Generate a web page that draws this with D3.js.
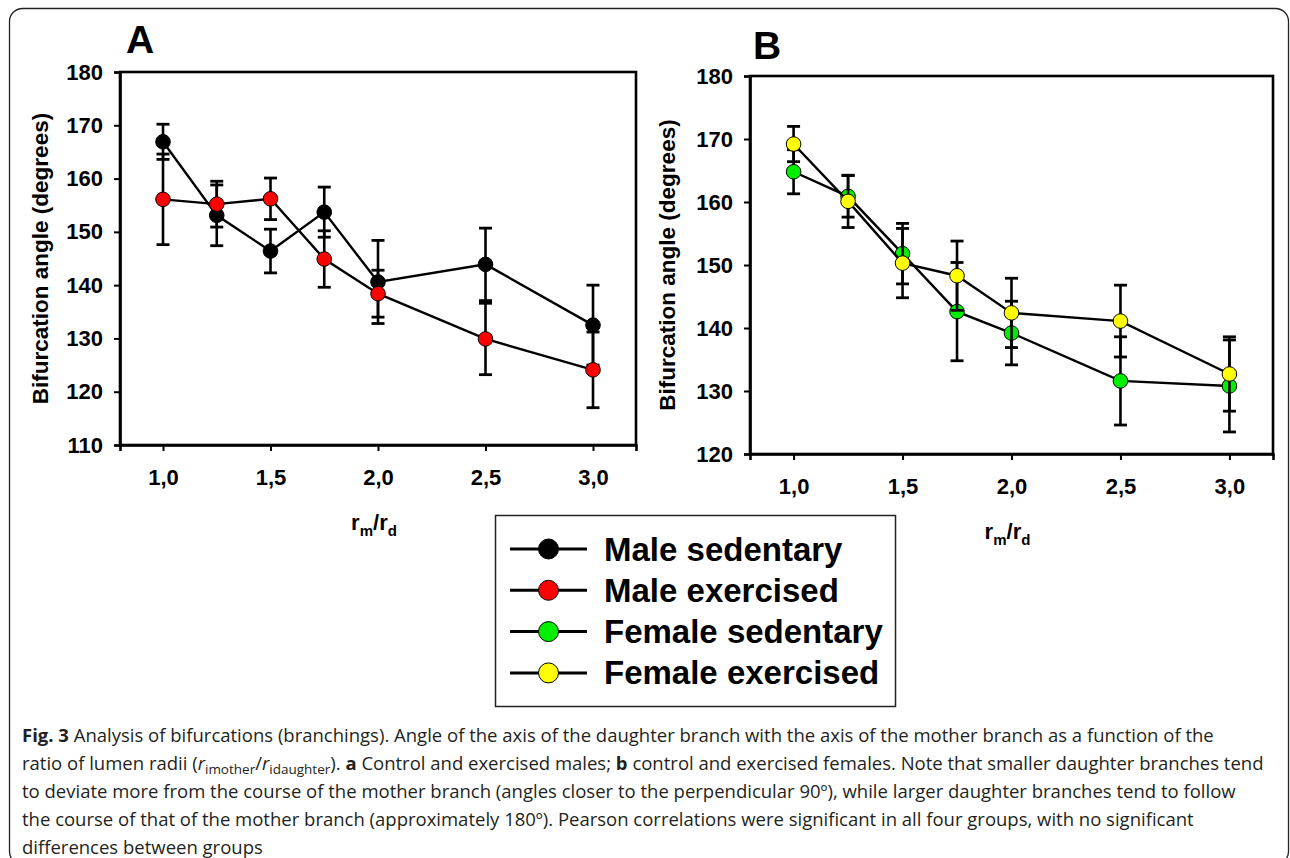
<!DOCTYPE html>
<html>
<head>
<meta charset="utf-8">
<script src="https://cdn.jsdelivr.net/npm/d3@7"></script>
<style>
  html, body { margin: 0; padding: 0; background: #fff; }
  svg { display: block; }
</style>
</head>
<body>
<svg id="chart" width="1290" height="858"></svg>
<script>
// ---------------- DATA ----------------
const xValues = [1.0, 1.25, 1.5, 1.75, 2.0, 2.5, 3.0];
const xTickValues = [1.0, 1.5, 2.0, 2.5, 3.0];
const yTicksA = [110, 120, 130, 140, 150, 160, 170, 180];
const yTicksB = [120, 130, 140, 150, 160, 170, 180];

const maleSedentary      = [166.9, 153.1, 146.4, 153.7, 140.6, 143.9, 132.5];
const maleSedentaryErr   = [3.3, 5.7, 4.1, 4.7, 7.8, 6.8, 7.5];
const maleExercised      = [156.1, 155.2, 156.2, 144.9, 138.4, 129.9, 124.1];
const maleExercisedErr   = [8.5, 4.3, 3.9, 5.3, 4.4, 6.7, 7.1];
const femaleSedentary    = [164.8, 160.9, 151.8, 142.6, 139.2, 131.6, 130.8];
const femaleSedentaryErr = [3.5, 3.3, 4.8, 7.8, 5.05, 7.0, 7.3];
const femaleExercised    = [169.2, 160.1, 150.3, 148.3, 142.4, 141.1, 132.7];
const femaleExercisedErr = [2.8, 4.15, 5.5, 5.5, 5.5, 5.7, 5.9];

const seriesNames  = ["Male sedentary", "Male exercised", "Female sedentary", "Female exercised"];
const seriesColors = ["#000000", "#ff0000", "#00ee00", "#ffff00"];

const panelLetters = ["A", "B"];
const yTitle = "Bifurcation angle (degrees)";

const captionLines = [
  [{t:"Fig. 3", b:true}, {t:" Analysis of bifurcations (branchings). Angle of the axis of the daughter branch with the axis of the mother branch as a function of the"}],
  [{t:"ratio of lumen radii ("}, {t:"r", i:true}, {t:"imother", sub:true}, {t:"/"}, {t:"r", i:true}, {t:"idaughter", sub:true}, {t:"). "}, {t:"a", b:true}, {t:" Control and exercised males; "}, {t:"b", b:true}, {t:" control and exercised females. Note that smaller daughter branches tend"}],
  [{t:"to deviate more from the course of the mother branch (angles closer to the perpendicular 90º), while larger daughter branches tend to follow"}],
  [{t:"the course of that of the mother branch (approximately 180º). Pearson correlations were significant in all four groups, with no significant"}],
  [{t:"differences between groups"}]
];

// ---------------- DRAW ----------------
const svg = d3.select("#chart");
const FONT = "'Liberation Sans', Arial, Helvetica, sans-serif";

svg.append("rect")
  .attr("x", 9.5).attr("y", 8.5).attr("width", 1279).attr("height", 856)
  .attr("rx", 13).attr("ry", 13)
  .attr("fill", "none").attr("stroke", "#222").attr("stroke-width", 1.3);

const panels = [
  { left: 120, right: 636, top: 72, bottom: 445, yDomain: [110, 180], yTicks: yTicksA,
    series: [[maleSedentary, maleSedentaryErr, 0], [maleExercised, maleExercisedErr, 1]],
    letterX: 126, letterY: 53, titleX: 40 },
  { left: 750, right: 1273, top: 76, bottom: 454, yDomain: [120, 180], yTicks: yTicksB,
    series: [[femaleSedentary, femaleSedentaryErr, 2], [femaleExercised, femaleExercisedErr, 3]],
    letterX: 753, letterY: 59, titleX: 667 }
];

const fmt = d => d3.format(".1f")(d).replace(".", ",");

panels.forEach((p, pi) => {
  const x = d3.scaleLinear().domain([0.8, 3.2]).range([p.left, p.right]);
  const y = d3.scaleLinear().domain(p.yDomain).range([p.bottom, p.top]);
  const g = svg.append("g");

  g.append("rect")
    .attr("x", p.left).attr("y", p.top)
    .attr("width", p.right - p.left).attr("height", p.bottom - p.top)
    .attr("fill", "none").attr("stroke", "#000").attr("stroke-width", 2.6);

  const ya = g.append("g").attr("transform", `translate(${p.left},0)`)
    .call(d3.axisLeft(y).tickValues(p.yTicks).tickSize(6).tickPadding(11).tickFormat(d3.format("d")));
  ya.select(".domain").attr("stroke-width", 2.6);
  ya.selectAll(".tick line").attr("stroke-width", 2);
  ya.selectAll("text").attr("font-family", FONT).attr("font-weight", "bold")
    .attr("font-size", 22).attr("fill", "#000");

  const xa = g.append("g").attr("transform", `translate(0,${p.bottom})`)
    .call(d3.axisBottom(x).tickValues(xTickValues).tickSize(6).tickFormat(fmt));
  xa.select(".domain").attr("stroke-width", 2.6);
  xa.selectAll(".tick line").attr("stroke-width", 2);
  xa.selectAll("text").attr("font-family", FONT).attr("font-weight", "bold")
    .attr("font-size", 22).attr("fill", "#000").attr("y", 32.5).attr("dy", "0.35em");

  g.append("text")
    .attr("transform", `translate(${p.titleX},${(p.top + p.bottom) / 2}) rotate(-90)`)
    .attr("text-anchor", "middle").attr("dy", "0.35em")
    .attr("font-family", FONT).attr("font-weight", "bold").attr("font-size", 22.5)
    .text(yTitle);

  const xt = g.append("text")
    .attr("x", (p.left + p.right) / 2 - 4).attr("y", p.bottom + 85)
    .attr("text-anchor", "middle")
    .attr("font-family", FONT).attr("font-weight", "bold").attr("font-size", 22);
  xt.append("tspan").text("r");
  xt.append("tspan").attr("font-size", 15).attr("dy", 6).text("m");
  xt.append("tspan").attr("dy", -6).text("/r");
  xt.append("tspan").attr("font-size", 15).attr("dy", 6).text("d");

  g.append("text").attr("x", p.letterX).attr("y", p.letterY)
    .attr("font-family", FONT).attr("font-weight", "bold").attr("font-size", 39)
    .text(panelLetters[pi]);

  const line = d3.line().x(d => x(d[0])).y(d => y(d[1]));
  p.series.forEach(([vals, errs, si]) => {
    const pts = xValues.map((xv, i) => [xv, vals[i], errs[i]]);
    const sg = g.append("g");
    sg.append("path").datum(pts).attr("d", line)
      .attr("fill", "none").attr("stroke", "#000").attr("stroke-width", 2.4);
    const eb = sg.selectAll(".eb").data(pts).enter().append("g");
    eb.append("line")
      .attr("x1", d => x(d[0])).attr("x2", d => x(d[0]))
      .attr("y1", d => y(d[1] + d[2])).attr("y2", d => y(d[1] - d[2]))
      .attr("stroke", "#000").attr("stroke-width", 2.6);
    [1, -1].forEach(s => {
      eb.append("line")
        .attr("x1", d => x(d[0]) - 6.5).attr("x2", d => x(d[0]) + 6.5)
        .attr("y1", d => y(d[1] + s * d[2])).attr("y2", d => y(d[1] + s * d[2]))
        .attr("stroke", "#000").attr("stroke-width", 2.8);
    });
    sg.selectAll("circle").data(pts).enter().append("circle")
      .attr("cx", d => x(d[0])).attr("cy", d => y(d[1])).attr("r", 7.3)
      .attr("fill", seriesColors[si]).attr("stroke", "#000").attr("stroke-width", 1);
  });
});

// legend
const lg = svg.append("g");
lg.append("rect").attr("x", 495.5).attr("y", 515.5).attr("width", 400).attr("height", 191)
  .attr("fill", "#fff").attr("stroke", "#222").attr("stroke-width", 1.5);
seriesNames.forEach((name, i) => {
  const cy = 549 + i * 41.3;
  lg.append("line").attr("x1", 510).attr("x2", 587).attr("y1", cy).attr("y2", cy)
    .attr("stroke", "#000").attr("stroke-width", 3);
  lg.append("circle").attr("cx", 548.5).attr("cy", cy).attr("r", 10)
    .attr("fill", seriesColors[i]).attr("stroke", "#000").attr("stroke-width", 1);
  lg.append("text").attr("x", 604).attr("y", cy + 11.5)
    .attr("font-family", FONT).attr("font-weight", "bold").attr("font-size", 33)
    .text(name);
});

// caption
const capBase = [742, 770, 798, 826, 854];
captionLines.forEach((parts, li) => {
  const t = svg.append("text").attr("x", 22).attr("y", capBase[li])
    .attr("font-family", "'Open Sans', 'Noto Sans', sans-serif").attr("font-size", 18.5)
    .attr("fill", "#231f20");
  let shifted = false;
  parts.forEach(pt => {
    const ts = t.append("tspan").text(pt.t);
    if (pt.b) ts.attr("font-weight", "bold");
    if (pt.i) ts.attr("font-style", "italic");
    if (pt.sub) { ts.attr("font-size", 13.5).attr("dy", 4); shifted = true; }
    else if (shifted) { ts.attr("dy", -4); shifted = false; }
  });
});
</script>
</body>
</html>
